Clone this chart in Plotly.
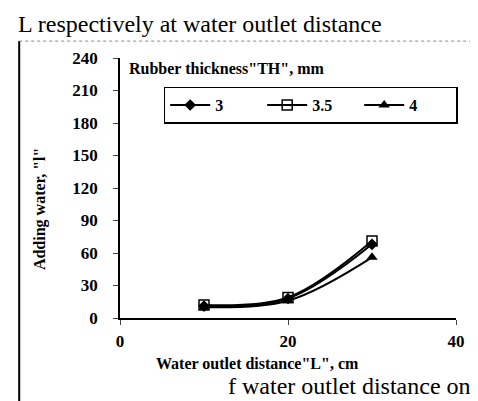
import plotly.graph_objects as go

# water outlet distance "L", cm
distance = [10, 20, 30]

# adding water "l" per rubber thickness "TH", mm
thickness_labels = ["3", "3.5", "4"]
water_th3 = [11, 18, 68]
water_th35 = [12, 19, 71]
water_th4 = [10, 16, 56]

y_ticks = [0, 30, 60, 90, 120, 150, 180, 210, 240]
x_ticks = [0, 20, 40]

SERIF = "Liberation Serif"

fig = go.Figure()
series = [
    (water_th3, dict(symbol="diamond", size=9, color="black")),
    (water_th35, dict(symbol="square-open", size=10, color="black", line=dict(width=1.5))),
    (water_th4, dict(symbol="triangle-up", size=10, color="black")),
]
for name, (values, marker) in zip(thickness_labels, series):
    fig.add_trace(
        go.Scatter(
            x=distance,
            y=values,
            name=name,
            mode="lines+markers",
            line=dict(color="black", width=2, shape="spline"),
            marker=marker,
        )
    )

fig.update_layout(
    width=478,
    height=401,
    margin=dict(l=112, r=30, t=50, b=91),
    paper_bgcolor="white",
    plot_bgcolor="white",
    font=dict(family=SERIF, color="black", size=14),
    showlegend=True,
    legend=dict(
        orientation="h",
        x=0.13,
        y=0.89,
        xanchor="left",
        yanchor="top",
        bordercolor="black",
        borderwidth=1.5,
        font=dict(family=SERIF, size=16, weight="bold"),
        itemwidth=40,
        entrywidth=42,
    ),
)
fig.update_xaxes(
    range=[0, 40],
    tickvals=x_ticks,
    ticks="outside",
    ticklen=5,
    ticklabelstandoff=2,
    showline=True,
    linecolor="black",
    linewidth=1.5,
    showgrid=False,
    zeroline=False,
    tickfont=dict(family=SERIF, size=17, color="black", weight="bold"),
)
fig.update_yaxes(
    range=[0, 240],
    tickvals=y_ticks,
    ticks="outside",
    ticklen=5,
    ticklabelstandoff=12,
    showline=True,
    linecolor="black",
    linewidth=1.5,
    showgrid=False,
    zeroline=False,
    tickfont=dict(family=SERIF, size=17, color="black", weight="bold"),
)

# legend heading inside the plot
fig.add_annotation(
    text='<b>Rubber thickness"TH", mm</b>',
    xref="paper", yref="paper", x=0.02, y=1.0,
    xanchor="left", yanchor="top", showarrow=False,
    font=dict(family=SERIF, size=16),
)
# axis titles
fig.add_annotation(
    text='<b>Adding water, "l"</b>',
    xref="paper", yref="paper", x=-0.27, y=0.42,
    textangle=-90, showarrow=False,
    font=dict(family=SERIF, size=16),
)
fig.add_annotation(
    text='<b>Water outlet distance"L", cm</b>',
    xref="paper", yref="paper", x=0.41, y=-0.215,
    showarrow=False,
    font=dict(family=SERIF, size=16),
)
# surrounding page text from the scan
fig.add_annotation(
    text="L respectively at water outlet distance",
    xref="paper", yref="paper", x=-0.31, y=1.13,
    xanchor="left", yanchor="middle", showarrow=False,
    font=dict(family=SERIF, size=24),
)
fig.add_annotation(
    text="f water outlet distance on",
    xref="paper", yref="paper", x=1.05, y=-0.26,
    xanchor="right", yanchor="middle", showarrow=False,
    font=dict(family=SERIF, size=24),
)
# figure frame
fig.add_shape(
    type="line", xref="paper", yref="paper",
    x0=-0.3, x1=-0.3, y0=1.065, y1=-0.35,
    line=dict(color="black", width=2),
)
fig.add_shape(
    type="line", xref="paper", yref="paper",
    x0=-0.3, x1=1.06, y0=1.065, y1=1.065,
    line=dict(color="#888", width=1, dash="dot"),
)
fig.add_shape(
    type="line", xref="paper", yref="paper",
    x0=1.06, x1=1.06, y0=1.065, y1=-0.2,
    line=dict(color="#888", width=1, dash="dot"),
)

fig.write_html("out.html")
